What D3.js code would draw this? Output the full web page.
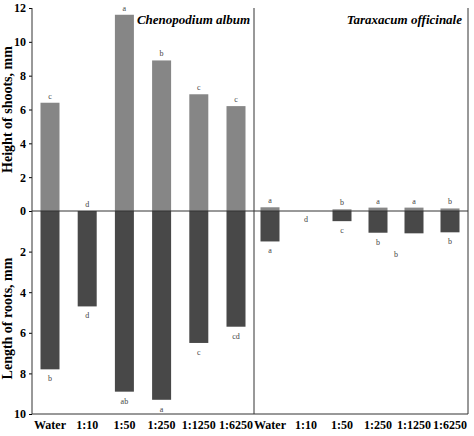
<!DOCTYPE html><html><head><script src="https://cdn.jsdelivr.net/npm/d3@7"></script>
<style>body{margin:0;background:#fff}text{font-family:"Liberation Serif",serif}</style></head><body><script>
const categories=["Water","1:10","1:50","1:250","1:1250","1:6250"];
const cheShoots=[6.4,0,11.6,8.9,6.9,6.2];
const cheRoots=[7.8,4.7,8.9,9.3,6.5,5.7];
const cheShootLetters=["c","d","a","b","c","c"];
const cheRootLetters=["b","d","ab","a","c","cd"];
const taxShoots=[0.22,0,0.1,0.2,0.2,0.15];
const taxRoots=[1.5,0,0.5,1.07,1.1,1.05];
const taxShootLetters=["a","","b","a","a","b"];
const taxRootLetters=["a","","c","b","","b"];
const shootTicks=[0,2,4,6,8,10,12];
const rootTicks=[2,4,6,8,10];
const W=474,H=436,L=32,R=468,T=8,Z=211,B=414,MID=254;
const svg=d3.select("body").append("svg").attr("width",W).attr("height",H);
const yS=d3.scaleLinear().domain([0,12]).range([Z,T]);
const yR=d3.scaleLinear().domain([0,10]).range([Z,B]);
const panels=[{x:d3.scalePoint().domain(categories).range([50,236]),s:cheShoots,r:cheRoots,sl:cheShootLetters,rl:cheRootLetters,title:"Chenopodium album",tx:250},
{x:d3.scalePoint().domain(categories).range([270,450]),s:taxShoots,r:taxRoots,sl:taxShootLetters,rl:taxRootLetters,title:"Taraxacum officinale",tx:462}];
const bw=19;
panels.forEach(p=>{
 const g=svg.append("g");
 g.selectAll(".s").data(categories).enter().append("rect").attr("x",d=>p.x(d)-bw/2).attr("width",bw)
  .attr("y",(d,i)=>yS(p.s[i])).attr("height",(d,i)=>Z-yS(p.s[i])).attr("fill","#868686");
 g.selectAll(".r").data(categories).enter().append("rect").attr("x",d=>p.x(d)-bw/2).attr("width",bw)
  .attr("y",Z).attr("height",(d,i)=>yR(p.r[i])-Z).attr("fill","#484848");
 g.selectAll(".sl").data(categories).enter().append("text").attr("x",d=>p.x(d)).attr("y",(d,i)=>yS(p.s[i])-4)
  .attr("text-anchor","middle").attr("font-size",8).attr("fill","#444").text((d,i)=>p.sl[i]);
 g.selectAll(".rl").data(categories).enter().append("text").attr("x",d=>p.x(d)).attr("y",(d,i)=>yR(p.r[i])+12)
  .attr("text-anchor","middle").attr("font-size",8).attr("fill","#444").text((d,i)=>p.rl[i]);
 g.append("text").attr("x",p.tx).attr("y",24).attr("text-anchor","end").attr("font-size",13)
  .attr("font-weight","bold").attr("font-style","italic").text(p.title);
 g.selectAll(".xl").data(categories).enter().append("text").attr("x",d=>p.x(d)).attr("y",429)
  .attr("text-anchor","middle").attr("font-size",12).attr("font-weight","bold").text(d=>d);
});
svg.append("text").attr("x",panels[1].x("1:10")).attr("y",222).attr("text-anchor","middle").attr("font-size",8).attr("fill","#444").text("d");
svg.append("text").attr("x",396).attr("y",257).attr("text-anchor","middle").attr("font-size",8).attr("fill","#444").text("b");
svg.append("line").attr("x1",L).attr("x2",R).attr("y1",Z).attr("y2",Z).attr("stroke","#333");
svg.append("line").attr("x1",L).attr("x2",R).attr("y1",B).attr("y2",B).attr("stroke","#333");
svg.append("line").attr("x1",MID).attr("x2",MID).attr("y1",T).attr("y2",B).attr("stroke","#333");
svg.append("line").attr("x1",R).attr("x2",R).attr("y1",T).attr("y2",B).attr("stroke","#333");
const ax1=svg.append("g").attr("transform",`translate(${L},0)`).call(d3.axisLeft(yS).tickValues(shootTicks).tickSize(3));
const ax2=svg.append("g").attr("transform",`translate(${L},0)`).call(d3.axisLeft(yR).tickValues(rootTicks).tickSize(3));
[ax1,ax2].forEach(a=>{a.select(".domain").remove();a.selectAll("text").attr("font-size",12).attr("font-weight","bold").attr("font-family","Liberation Serif").attr("fill","#000");});
svg.append("line").attr("x1",L).attr("x2",L).attr("y1",T).attr("y2",B).attr("stroke","#333");
svg.append("text").attr("transform",`translate(12,${(T+Z)/2}) rotate(-90)`).attr("text-anchor","middle").attr("font-size",14).attr("font-weight","bold").text("Height of shoots, mm");
svg.append("text").attr("transform",`translate(12,${(Z+B)/2+6}) rotate(-90)`).attr("text-anchor","middle").attr("font-size",14).attr("font-weight","bold").text("Length of roots, mm");
</script></body></html>
